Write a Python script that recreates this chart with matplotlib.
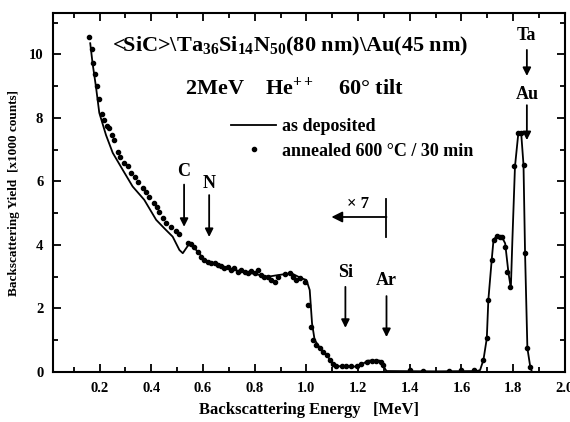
import matplotlib
matplotlib.use("Agg")
import matplotlib.pyplot as plt
from matplotlib.ticker import MultipleLocator

plt.rcParams["font.family"] = ["Liberation Serif", "DejaVu Serif"]
plt.rcParams["font.weight"] = "bold"
plt.rcParams["mathtext.fontset"] = "custom"
plt.rcParams["mathtext.rm"] = "Liberation Serif:bold"
plt.rcParams["mathtext.it"] = "Liberation Serif:bold:italic"
plt.rcParams["mathtext.bf"] = "Liberation Serif:bold"
plt.rcParams["mathtext.default"] = "rm"

# as deposited (solid line), energy in MeV, yield in 1000 counts
energy_dep = [0.164, 0.173, 0.186, 0.199, 0.225, 0.251, 0.29, 0.328, 0.373, 0.419,
              0.451, 0.483, 0.509, 0.522, 0.548, 0.574, 0.606, 0.658, 0.722, 0.787,
              0.851, 0.89, 0.942, 0.981, 1.0, 1.013, 1.022, 1.032, 1.058, 1.084,
              1.103, 1.136, 1.20, 1.239, 1.284, 1.303, 1.31, 1.5, 1.66, 1.672,
              1.685, 1.698, 1.704, 1.717, 1.724, 1.736, 1.756, 1.769, 1.782, 1.791,
              1.797, 1.807, 1.82, 1.831, 1.84, 1.846, 1.855, 1.866, 1.872]
yield_dep = [10.35, 9.72, 8.99, 8.16, 7.46, 6.9, 6.36, 5.84, 5.42, 4.79,
             4.52, 4.26, 3.84, 3.74, 4.05, 3.84, 3.53, 3.37, 3.21, 3.11,
             3.0, 3.05, 3.11, 2.95, 2.9, 2.58, 1.53, 1.01, 0.69, 0.48,
             0.22, 0.17, 0.17, 0.36, 0.36, 0.12, 0.03, 0.02, 0.03, 0.06,
             0.38, 1.06, 2.27, 3.53, 4.16, 4.28, 4.26, 4.05, 3.11, 2.64,
             4.16, 6.47, 7.52, 7.52, 6.52, 3.74, 0.75, 0.17, 0.02]

# annealed 600 C / 30 min (dots)
energy_ann = [0.158, 0.169, 0.176, 0.182, 0.19, 0.199, 0.208, 0.218, 0.229, 0.238,
              0.247, 0.257, 0.27, 0.28, 0.293, 0.309, 0.322, 0.337, 0.35, 0.367,
              0.38, 0.393, 0.41, 0.422, 0.431, 0.444, 0.457, 0.477, 0.496, 0.509,
              0.544, 0.554, 0.565, 0.58, 0.593, 0.606, 0.619, 0.632, 0.645, 0.658,
              0.671, 0.683, 0.697, 0.709, 0.722, 0.735, 0.748, 0.761, 0.774, 0.787,
              0.8, 0.813, 0.826, 0.838, 0.851, 0.864, 0.877, 0.89, 0.916, 0.935,
              0.948, 0.961, 0.975, 0.993, 1.007, 1.017, 1.026, 1.039, 1.052, 1.065,
              1.078, 1.09, 1.103, 1.116, 1.136, 1.155, 1.174, 1.194, 1.213, 1.233,
              1.252, 1.271, 1.288, 1.297, 1.40, 1.45, 1.55, 1.60, 1.65, 1.685,
              1.698, 1.704, 1.717, 1.724, 1.736, 1.749, 1.757, 1.769, 1.778, 1.788,
              1.805, 1.82, 1.831, 1.842, 1.846, 1.855, 1.866]
yield_ann = [10.54, 10.16, 9.72, 9.39, 8.99, 8.6, 8.12, 7.94, 7.75, 7.67,
             7.46, 7.31, 6.94, 6.78, 6.59, 6.47, 6.28, 6.15, 5.99, 5.79,
             5.68, 5.52, 5.33, 5.21, 5.05, 4.84, 4.68, 4.58, 4.45, 4.34,
             4.07, 4.03, 3.95, 3.79, 3.63, 3.53, 3.47, 3.42, 3.42, 3.37,
             3.34, 3.27, 3.32, 3.21, 3.27, 3.16, 3.21, 3.16, 3.11, 3.19,
             3.11, 3.21, 3.06, 3.0, 2.98, 2.9, 2.84, 3.0, 3.09, 3.11,
             3.0, 2.9, 2.95, 2.84, 2.11, 1.43, 1.01, 0.85, 0.75, 0.64,
             0.54, 0.38, 0.25, 0.19, 0.19, 0.19, 0.19, 0.19, 0.25, 0.32,
             0.36, 0.36, 0.32, 0.22, 0.05, 0.04, 0.04, 0.05, 0.06, 0.38,
             1.06, 2.27, 3.53, 4.16, 4.28, 4.26, 4.24, 3.95, 3.16, 2.69,
             6.47, 7.52, 7.52, 6.52, 3.74, 0.75, 0.17]

x_ticks = [0.2, 0.4, 0.6, 0.8, 1.0, 1.2, 1.4, 1.6, 1.8, 2.0]
x_ticklabels = ["0.2", "0.4", "0.6", "0.8", "1.0", "1.2", "1.4", "1.6", "1.8", "2.0"]

fig = plt.figure(figsize=(5.7, 4.22), dpi=100)
ax = fig.add_axes([0.093, 0.1185, 0.898, 0.8505])

ax.plot(energy_dep, yield_dep, "-", color="black", linewidth=1.3, label="as deposited")
ax.plot(energy_ann, yield_ann, "o", color="black", markersize=3, linestyle="none",
        label="annealed 600 \u00b0C / 30 min")

ax.set_xlim(0.02, 2.0)
ax.set_ylim(0, 11.3)
ax.xaxis.set_minor_locator(MultipleLocator(0.1))
ax.yaxis.set_major_locator(MultipleLocator(2))
ax.yaxis.set_minor_locator(MultipleLocator(1))
ax.set_xticks(x_ticks)
ax.set_xticklabels(x_ticklabels)
ax.tick_params(which="both", direction="in", top=True, right=True, width=1.3,
               labelsize=10.5)
ax.tick_params(which="major", length=6, pad=7)
ax.tick_params(which="minor", length=3.5)
for s in ax.spines.values():
    s.set_linewidth(1.5)

ax.set_xlabel("Backscattering Energy   [MeV]", fontsize=12, fontweight="bold", labelpad=5)
ax.set_ylabel("Backscattering Yield  [x1000 counts]", fontsize=9.5, fontweight="bold",
              labelpad=6)

ax.text(0.938, 10.24, r"<SiC>\Ta$_{36}$Si$_{14}$N$_{50}$(80 nm)\Au(45 nm)",
        ha="center", va="center", fontsize=16)
ax.text(0.953, 8.94, r"2MeV    He$^{++}$    60$\degree$ tilt",
        ha="center", va="center", fontsize=16)

ax.legend(loc="upper left", bbox_to_anchor=(0.316, 0.752), frameon=False,
          fontsize=13, handlelength=2.5, handletextpad=0.3, labelspacing=0.4,
          borderpad=0.4, markerscale=1.0)

arrows = [("C", 0.527, 5.9, 4.57, 6.3), ("N", 0.624, 5.57, 4.25, 5.95),
          ("Si", 1.151, 2.68, 1.39, 3.12), ("Ar", 1.31, 2.39, 1.1, 2.88),
          ("Ta", 1.853, 10.14, 9.32, 10.6), ("Au", 1.853, 8.4, 7.3, 8.75)]
for lab, xa, y0, y1, yt in arrows:
    ax.annotate("", xy=(xa, y1), xytext=(xa, y0),
                arrowprops=dict(arrowstyle="-|>", color="black", lw=1.3,
                                mutation_scale=12, shrinkA=0, shrinkB=0))
    ax.text(xa, yt, lab, ha="center", va="center", fontsize=13)

# x7 marker
ax.plot([1.31, 1.31], [4.25, 5.45], color="black", lw=1.3)
ax.annotate("", xy=(1.097, 4.88), xytext=(1.31, 4.88),
            arrowprops=dict(arrowstyle="-|>", color="black", lw=1.3,
                            mutation_scale=16, shrinkA=0, shrinkB=0))
ax.text(1.2, 5.3, "\u00d7 7", ha="center", va="center", fontsize=12)

fig.savefig("out.png", dpi=100)
